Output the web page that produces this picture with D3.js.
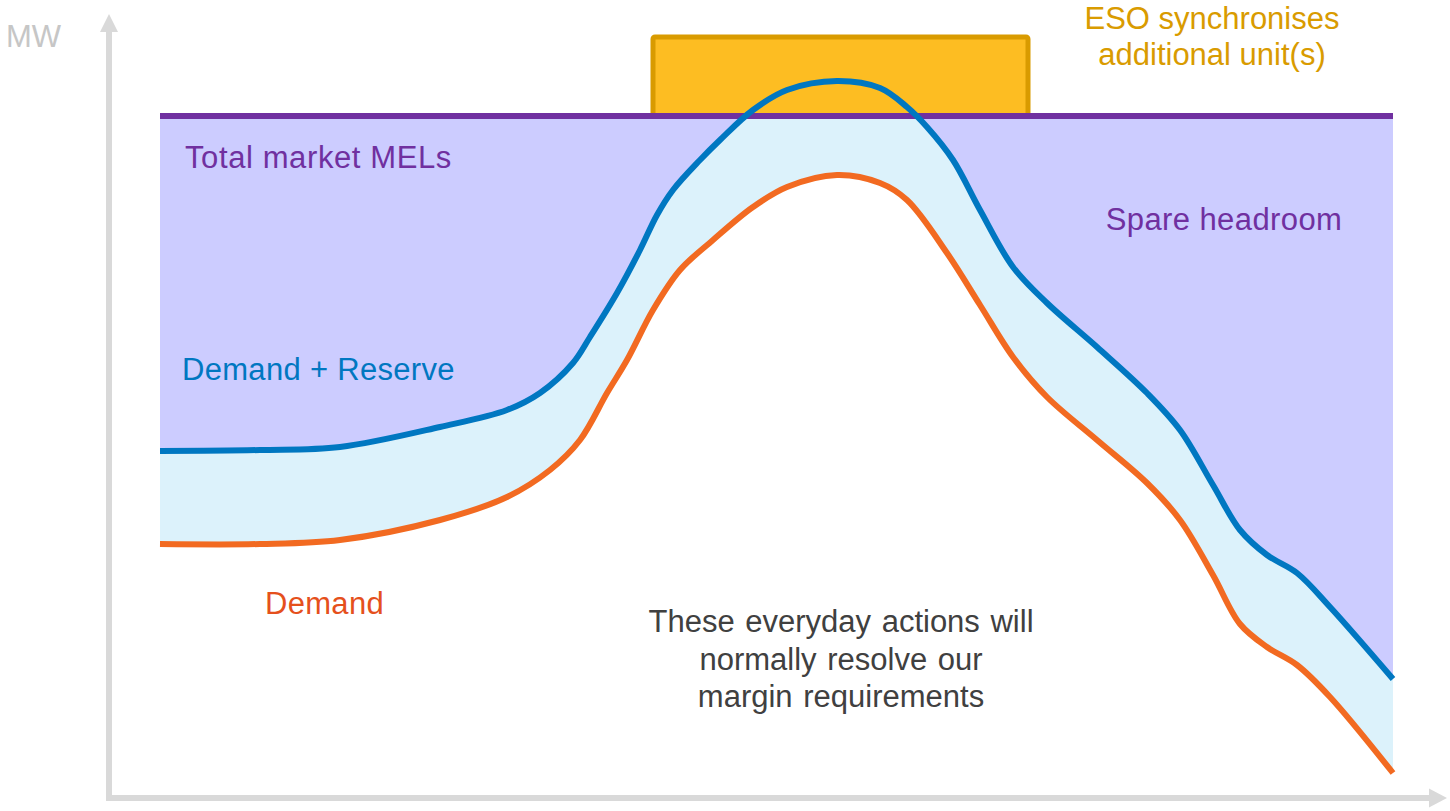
<!DOCTYPE html>
<html>
<head>
<meta charset="utf-8">
<script src="https://cdn.jsdelivr.net/npm/d3@7/dist/d3.min.js"></script>
<style>
  html, body { margin: 0; padding: 0; background: #ffffff; }
  svg { display: block; font-family: "Liberation Sans", Arial, sans-serif; }
</style>
</head>
<body>
<svg id="chart" width="1450" height="811"></svg>
<script>
// Time steps across the day (arbitrary units) and MW levels for each curve
const reserveSteps = [0, 100, 180, 280, 347, 380, 413, 430, 457, 480, 497, 513, 540, 560, 593, 627, 677, 720, 747, 767, 793, 820, 853, 887, 937, 987, 1020, 1053, 1080, 1107, 1137, 1170, 1233];
const demandReserve = [346, 347, 350, 370, 387, 404, 434, 460, 504, 547, 582, 607, 637, 657, 687, 707, 716, 709, 690, 670, 637, 587, 530, 494, 450, 404, 367, 312, 267, 242, 224, 190, 118];

const demandSteps = [0, 100, 180, 280, 347, 390, 420, 447, 467, 493, 520, 553, 593, 627, 677, 720, 747, 787, 820, 853, 887, 937, 987, 1020, 1053, 1080, 1107, 1137, 1170, 1233];
const demand = [253, 253, 257, 277, 300, 327, 357, 404, 437, 487, 527, 557, 590, 610, 622, 614, 597, 544, 492, 440, 400, 357, 314, 277, 222, 173, 150, 132, 100, 24];

// Total market MELs (flat) and the window where an extra unit is synchronised
const totalMEL = 681;
const syncWindow = [493, 868];   // start / end step
const syncTop = 760;             // MW level of the block's top edge

const labels = {
  axis: "MW",
  mel: "Total market MELs",
  reserve: "Demand + Reserve",
  demand: "Demand",
  headroom: "Spare headroom",
  sync: ["ESO synchronises", "additional unit(s)"],
  note: ["These everyday actions will", "normally  resolve our", "margin requirements"]
};

const colors = {
  axis: "#d9d9d9",
  axisText: "#c6c6c6",
  mel: "#7030a0",
  headroom: "#ccccff",
  band: "#dcf2fb",
  reserve: "#0077c1",
  demand: "#f26a21",
  demandText: "#e5501c",
  syncFill: "#fdbd22",
  syncStroke: "#d99b00",
  note: "#404040"
};

const svg = d3.select("#chart");
const x = d3.scaleLinear().domain([0, 1233]).range([160, 1393]);
const y = d3.scaleLinear().domain([0, 681]).range([797, 116]);

const reservePts = reserveSteps.map((t, i) => [t, demandReserve[i]]);
const demandPts = demandSteps.map((t, i) => [t, demand[i]]);

const curve = d3.curveCatmullRom.alpha(0.5);
const lineGen = d3.line().x(d => x(d[0])).y(d => y(d[1])).curve(curve);

// clip fills to the region below the MEL line
const defs = svg.append("defs");
defs.append("clipPath").attr("id", "belowMEL")
  .append("rect")
  .attr("x", x(0)).attr("y", y(totalMEL))
  .attr("width", x(1233) - x(0)).attr("height", y(0) - y(totalMEL));

// Spare headroom: between MEL and demand + reserve
const headroomArea = d3.area()
  .x(d => x(d[0]))
  .y0(() => y(totalMEL))
  .y1(d => y(d[1]))
  .curve(curve);
svg.append("path")
  .datum(reservePts)
  .attr("clip-path", "url(#belowMEL)")
  .attr("fill", colors.headroom)
  .attr("d", headroomArea);

// Reserve band: upper curve forward, lower curve backward, closed
const upperPath = lineGen(reservePts);
const lowerPath = lineGen(demandPts.slice().reverse());
svg.append("path")
  .attr("clip-path", "url(#belowMEL)")
  .attr("fill", colors.band)
  .attr("d", upperPath + "L" + lowerPath.slice(1) + "Z");

// Synchronised unit block
svg.append("rect")
  .attr("x", x(syncWindow[0]))
  .attr("y", y(syncTop))
  .attr("width", x(syncWindow[1]) - x(syncWindow[0]))
  .attr("height", y(totalMEL) - y(syncTop))
  .attr("rx", 2)
  .attr("fill", colors.syncFill)
  .attr("stroke", colors.syncStroke)
  .attr("stroke-width", 5);

// MEL line
svg.append("line")
  .attr("x1", x(0)).attr("x2", x(1233))
  .attr("y1", y(totalMEL)).attr("y2", y(totalMEL))
  .attr("stroke", colors.mel).attr("stroke-width", 6);

// Demand + reserve and demand curves
svg.append("path").datum(reservePts)
  .attr("fill", "none").attr("stroke", colors.reserve).attr("stroke-width", 6)
  .attr("d", lineGen);
svg.append("path").datum(demandPts)
  .attr("fill", "none").attr("stroke", colors.demand).attr("stroke-width", 6)
  .attr("d", lineGen);

// Axes with arrow heads
const axisX0 = 109, axisY0 = 798;
svg.append("line")
  .attr("x1", axisX0).attr("y1", axisY0 + 3).attr("x2", axisX0).attr("y2", 30)
  .attr("stroke", colors.axis).attr("stroke-width", 6);
svg.append("path")
  .attr("d", `M${axisX0},14 L${axisX0 + 9},32 L${axisX0 - 9},32 Z`)
  .attr("fill", colors.axis);
svg.append("line")
  .attr("x1", axisX0 - 3).attr("y1", axisY0).attr("x2", 1431).attr("y2", axisY0)
  .attr("stroke", colors.axis).attr("stroke-width", 6);
svg.append("path")
  .attr("d", `M1447,${axisY0} L1429,${axisY0 - 9.5} L1429,${axisY0 + 9.5} Z`)
  .attr("fill", colors.axis);

// Text labels
const fs = 31;
function addText(str, px, py, color, anchor) {
  return svg.append("text")
    .attr("x", px).attr("y", py)
    .attr("fill", color)
    .attr("font-size", fs)
    .attr("text-anchor", anchor || "start")
    .text(str);
}
addText(labels.axis, 6, 47, colors.axisText).attr("font-size", 31);
addText(labels.mel, 185, 168, colors.mel).attr("letter-spacing", 0.6);
addText(labels.reserve, 182, 380, colors.reserve).attr("letter-spacing", 0.3);
addText(labels.demand, 265, 614, colors.demandText).attr("letter-spacing", 0.3);
addText(labels.headroom, 1224, 230, colors.mel, "middle").attr("letter-spacing", 0.4);
labels.sync.forEach((s, i) => addText(s, 1212, 29 + i * 36, colors.syncStroke, "middle"));
labels.note.forEach((s, i) => addText(s, 841, 632 + i * 37.5, colors.note, "middle").attr("word-spacing", 2));
</script>
</body>
</html>
